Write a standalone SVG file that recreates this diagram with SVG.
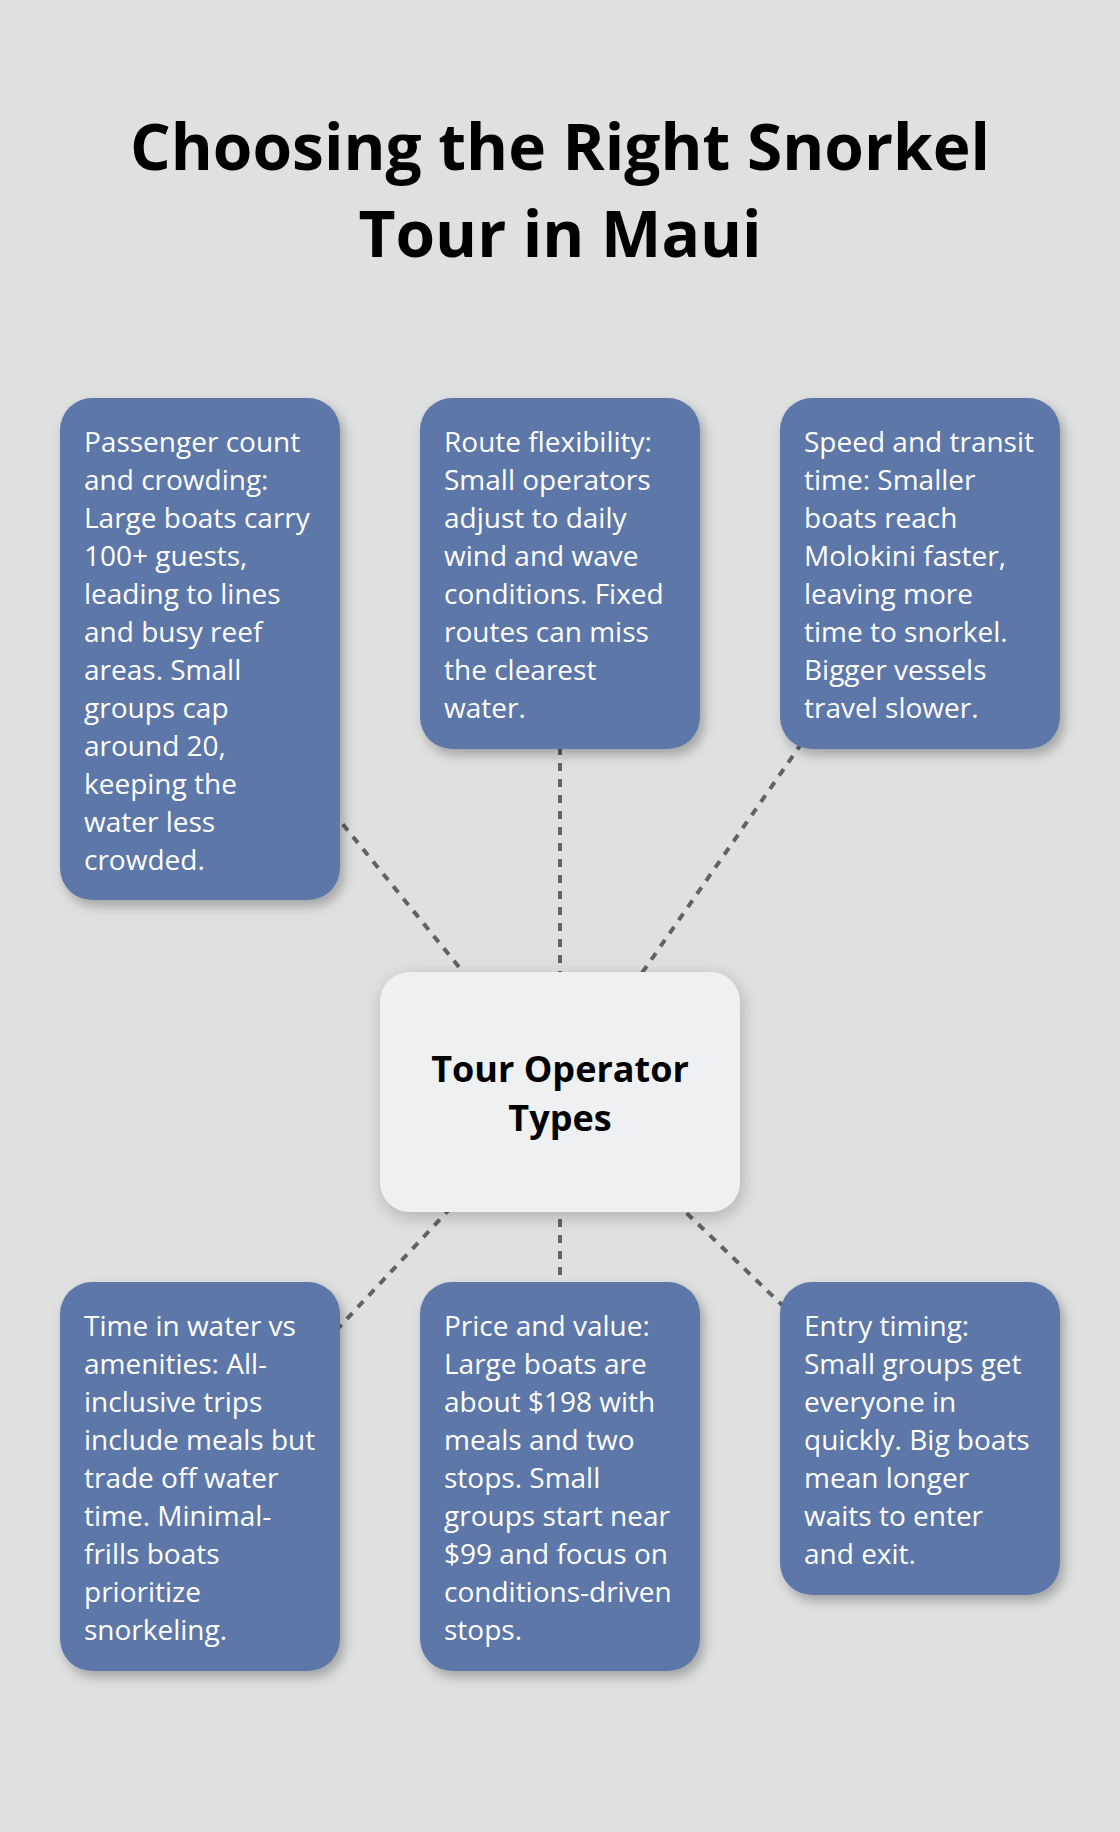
<svg xmlns="http://www.w3.org/2000/svg" width="1120" height="1832" viewBox="0 0 1120 1832">
  <defs>
    <filter id="shadow" x="-20%" y="-20%" width="140%" height="140%">
      <feDropShadow dx="4" dy="6" stdDeviation="6" flood-color="#000" flood-opacity="0.28"/>
    </filter>
    <filter id="hubshadow" x="-30%" y="-30%" width="160%" height="160%">
      <feDropShadow dx="2" dy="5" stdDeviation="9" flood-color="#000" flood-opacity="0.22"/>
    </filter>
    <style>
      .title { font-family: "Open Sans", "Noto Sans", "Liberation Sans", sans-serif; font-weight: 700; font-size: 64px; fill: #000; text-anchor: middle; }
      .leaf { fill: #5d77a9; filter: url(#shadow); }
      .hub { fill: #eff0f2; filter: url(#hubshadow); }
      .leaf-text { font-family: "Open Sans", "Noto Sans", "Liberation Sans", sans-serif; font-size: 28px; fill: #ffffff; }
      .hub-text { font-family: "Open Sans", "Noto Sans", "Liberation Sans", sans-serif; font-weight: 700; font-size: 36px; fill: #000; text-anchor: middle; }
      .conn { stroke: #626262; stroke-width: 4; stroke-dasharray: 8 8; fill: none; }
    </style>
  </defs>
  <rect x="0" y="0" width="1120" height="1832" fill="#dfe1e0"/>

  <g id="title">
    <text class="title" x="560" y="170">Choosing the Right Snorkel</text>
    <text class="title" x="560" y="256.5">Tour in Maui</text>
  </g>

  <g id="connectors">
    <line class="conn" x1="560" y1="1091" x2="200" y2="649"/>
    <line class="conn" x1="560" y1="1091" x2="560" y2="573"/>
    <line class="conn" x1="560" y1="1091" x2="920" y2="573"/>
    <line class="conn" x1="560" y1="1091" x2="200" y2="1476"/>
    <line class="conn" x1="560" y1="1091" x2="560" y2="1476"/>
    <line class="conn" x1="560" y1="1091" x2="920" y2="1438"/>
  </g>

  <g id="hub">
    <rect class="hub" x="380" y="972" width="360" height="240" rx="30" ry="30"/>
    <text class="hub-text" x="560" y="1082">Tour Operator</text>
    <text class="hub-text" x="560" y="1130.5">Types</text>
  </g>

  <g id="passenger-count">
    <rect class="leaf" x="60" y="398" width="280" height="502" rx="32" ry="32"/>
    <text class="leaf-text">
      <tspan x="84" y="452">Passenger count</tspan>
      <tspan x="84" dy="38">and crowding:</tspan>
      <tspan x="84" dy="38">Large boats carry</tspan>
      <tspan x="84" dy="38">100+ guests,</tspan>
      <tspan x="84" dy="38">leading to lines</tspan>
      <tspan x="84" dy="38">and busy reef</tspan>
      <tspan x="84" dy="38">areas. Small</tspan>
      <tspan x="84" dy="38">groups cap</tspan>
      <tspan x="84" dy="38">around 20,</tspan>
      <tspan x="84" dy="38">keeping the</tspan>
      <tspan x="84" dy="38">water less</tspan>
      <tspan x="84" dy="38">crowded.</tspan>
    </text>
  </g>

  <g id="route-flexibility">
    <rect class="leaf" x="420" y="398" width="280" height="351" rx="32" ry="32"/>
    <text class="leaf-text">
      <tspan x="444" y="452">Route flexibility:</tspan>
      <tspan x="444" dy="38">Small operators</tspan>
      <tspan x="444" dy="38">adjust to daily</tspan>
      <tspan x="444" dy="38">wind and wave</tspan>
      <tspan x="444" dy="38">conditions. Fixed</tspan>
      <tspan x="444" dy="38">routes can miss</tspan>
      <tspan x="444" dy="38">the clearest</tspan>
      <tspan x="444" dy="38">water.</tspan>
    </text>
  </g>

  <g id="speed-transit">
    <rect class="leaf" x="780" y="398" width="280" height="351" rx="32" ry="32"/>
    <text class="leaf-text">
      <tspan x="804" y="452">Speed and transit</tspan>
      <tspan x="804" dy="38">time: Smaller</tspan>
      <tspan x="804" dy="38">boats reach</tspan>
      <tspan x="804" dy="38">Molokini faster,</tspan>
      <tspan x="804" dy="38">leaving more</tspan>
      <tspan x="804" dy="38">time to snorkel.</tspan>
      <tspan x="804" dy="38">Bigger vessels</tspan>
      <tspan x="804" dy="38">travel slower.</tspan>
    </text>
  </g>

  <g id="time-in-water">
    <rect class="leaf" x="60" y="1282" width="280" height="389" rx="32" ry="32"/>
    <text class="leaf-text">
      <tspan x="84" y="1336">Time in water vs</tspan>
      <tspan x="84" dy="38">amenities: All-</tspan>
      <tspan x="84" dy="38">inclusive trips</tspan>
      <tspan x="84" dy="38">include meals but</tspan>
      <tspan x="84" dy="38">trade off water</tspan>
      <tspan x="84" dy="38">time. Minimal-</tspan>
      <tspan x="84" dy="38">frills boats</tspan>
      <tspan x="84" dy="38">prioritize</tspan>
      <tspan x="84" dy="38">snorkeling.</tspan>
    </text>
  </g>

  <g id="price-value">
    <rect class="leaf" x="420" y="1282" width="280" height="389" rx="32" ry="32"/>
    <text class="leaf-text">
      <tspan x="444" y="1336">Price and value:</tspan>
      <tspan x="444" dy="38">Large boats are</tspan>
      <tspan x="444" dy="38">about $198 with</tspan>
      <tspan x="444" dy="38">meals and two</tspan>
      <tspan x="444" dy="38">stops. Small</tspan>
      <tspan x="444" dy="38">groups start near</tspan>
      <tspan x="444" dy="38">$99 and focus on</tspan>
      <tspan x="444" dy="38">conditions-driven</tspan>
      <tspan x="444" dy="38">stops.</tspan>
    </text>
  </g>

  <g id="entry-timing">
    <rect class="leaf" x="780" y="1282" width="280" height="313" rx="32" ry="32"/>
    <text class="leaf-text">
      <tspan x="804" y="1336">Entry timing:</tspan>
      <tspan x="804" dy="38">Small groups get</tspan>
      <tspan x="804" dy="38">everyone in</tspan>
      <tspan x="804" dy="38">quickly. Big boats</tspan>
      <tspan x="804" dy="38">mean longer</tspan>
      <tspan x="804" dy="38">waits to enter</tspan>
      <tspan x="804" dy="38">and exit.</tspan>
    </text>
  </g>
</svg>
